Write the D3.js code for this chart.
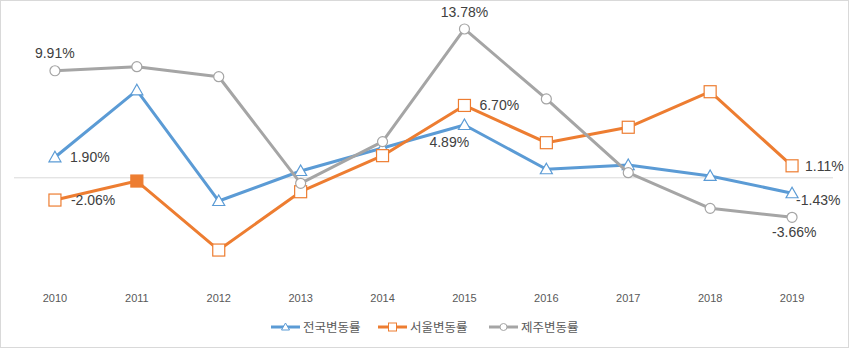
<!DOCTYPE html>
<html><head><meta charset="utf-8">
<script src="https://cdn.jsdelivr.net/npm/d3@7"></script>
<style>
html,body{margin:0;padding:0;background:#fff;}
svg{display:block;}
</style></head>
<body>
<svg id="chart" width="850" height="349"></svg>
<script>
const years = ["2010","2011","2012","2013","2014","2015","2016","2017","2018","2019"];
const seriesNames = ["전국변동률","서울변동률","제주변동률"];
const national = [1.90, 8.10, -2.15, 0.63, 2.76, 4.89, 0.79, 1.18, 0.17, -1.43];
const seoul = [-2.06, -0.30, -6.69, -1.29, 2.05, 6.70, 3.25, 4.68, 7.97, 1.11];
const jeju = [9.91, 10.29, 9.36, -0.51, 3.35, 13.78, 7.30, 0.47, -2.83, -3.66];
const colors = ["#5B9BD5","#ED7D31","#A5A5A5"];
const markers = ["triangle","square","circle"];
// labels: [seriesIndex, yearIndex, text, dx, dy, anchor]
const labels = [
  [2,0,"9.91%",-20,-18,"start"],
  [0,0,"1.90%",15,0,"start"],
  [1,0,"-2.06%",16,0,"start"],
  [2,5,"13.78%",0,-17,"middle"],
  [1,5,"6.70%",15,0,"start"],
  [0,5,"4.89%",-35,17,"start"],
  [1,9,"1.11%",13,0,"start"],
  [0,9,"-1.43%",4,7,"start"],
  [2,9,"-3.66%",-20,15,"start"]
];
const allSeries = [national, seoul, jeju];

const svg = d3.select("#chart");
svg.append("rect").attr("x",0.5).attr("y",0.5).attr("width",848).attr("height",347)
  .attr("fill","#fff").attr("stroke","#d9d9d9");

const x = d3.scaleBand().domain(years).range([14,833]);
const y = d3.scaleLinear().domain([-10,15]).range([285.8,15.8]);
const cx = d => x(d) + x.bandwidth()/2;

// zero line
svg.append("line").attr("x1",14).attr("x2",833).attr("y1",y(0)).attr("y2",y(0))
  .attr("stroke","#d9d9d9").attr("stroke-width",1);

// x axis labels
const xAxis = d3.axisBottom(x).tickSize(0).tickPadding(0);
const gx = svg.append("g").attr("transform","translate(0,294)").call(xAxis);
gx.select(".domain").remove();
gx.selectAll("text").attr("font-family","Liberation Sans, Arial, sans-serif")
  .attr("font-size","11px").attr("fill","#595959");

const line = d3.line().x((d,i)=>cx(years[i])).y(d=>y(d));

function drawMarker(g, type, color, px, py, filled){
  if(type==="triangle"){
    g.append("path").attr("d", `M${px},${py-6}L${px+6},${py+4.5}L${px-6},${py+4.5}Z`)
      .attr("fill", filled?color:"#fff").attr("stroke",color).attr("stroke-width",1.2);
  } else if(type==="square"){
    g.append("rect").attr("x",px-6).attr("y",py-6).attr("width",12).attr("height",12)
      .attr("fill", filled?color:"#fff").attr("stroke",color).attr("stroke-width",1.2);
  } else {
    g.append("circle").attr("cx",px).attr("cy",py).attr("r",5)
      .attr("fill", filled?color:"#fff").attr("stroke",color).attr("stroke-width",1.2);
  }
}

// draw order: national, seoul, jeju? jeju appears on top of others in places
const order = [0,1,2];
order.forEach(si=>{
  const g = svg.append("g");
  g.append("path").datum(allSeries[si]).attr("d",line).attr("fill","none")
    .attr("stroke",colors[si]).attr("stroke-width",3).attr("stroke-linejoin","round");
  allSeries[si].forEach((v,i)=>{
    const filled = (si===1 && i===1);
    drawMarker(g, markers[si], colors[si], cx(years[i]), y(v), filled);
  });
});

// data labels
labels.forEach(([si,yi,t,dx,dy,anchor])=>{
  svg.append("text").attr("x",cx(years[yi])+dx).attr("y",y(allSeries[si][yi])+dy)
    .attr("dy","0.35em").attr("text-anchor",anchor)
    .attr("font-family","Liberation Sans, Arial, sans-serif").attr("font-size","14px")
    .attr("fill","#404040").text(t);
});

// legend
const legendX = [271, 378, 489];
seriesNames.forEach((n,i)=>{
  const g = svg.append("g").attr("transform",`translate(${legendX[i]},327)`);
  g.append("line").attr("x1",0).attr("x2",29).attr("y1",0).attr("y2",0)
    .attr("stroke",colors[i]).attr("stroke-width",3);
  const m = g.append("g");
  if(markers[i]==="triangle"){
    m.append("path").attr("d","M14.5,-4L18.5,3L10.5,3Z").attr("fill","#fff").attr("stroke",colors[i]).attr("stroke-width",1);
  } else if(markers[i]==="square"){
    m.append("rect").attr("x",10.5).attr("y",-4).attr("width",8).attr("height",8).attr("fill","#fff").attr("stroke",colors[i]).attr("stroke-width",1);
  } else {
    m.append("circle").attr("cx",14.5).attr("cy",0).attr("r",3.5).attr("fill","#fff").attr("stroke",colors[i]).attr("stroke-width",1);
  }
  g.append("text").attr("x",32).attr("y",0).attr("dy","0.36em")
    .attr("font-family","Noto Sans CJK KR, sans-serif").attr("font-size","12.5px")
    .attr("fill","#595959").text(n);
});
</script>
</body></html>
